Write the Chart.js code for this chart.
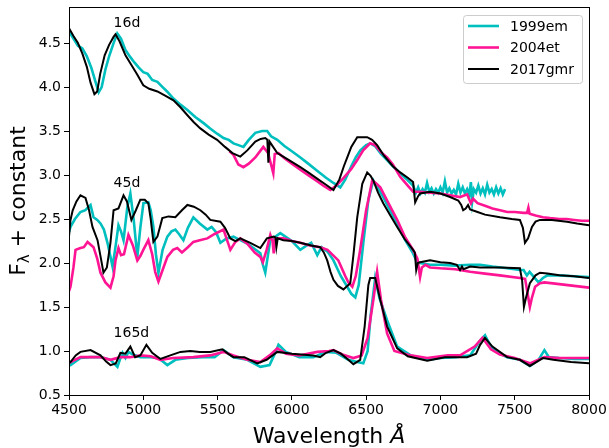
<!DOCTYPE html>
<html>
<head>
<meta charset="utf-8">
<script src="https://cdn.jsdelivr.net/npm/chart.js@4.4.0/dist/chart.umd.min.js"></script>
<style>
  html, body { margin: 0; padding: 0; background: #fff; }
  canvas { display: block; }
</style>
</head>
<body>
<canvas id="spec" width="609" height="448"></canvas>
<script>
// tick labels
var waveTicks = [4500, 5000, 5500, 6000, 6500, 7000, 7500, 8000];
var fluxTicks = [0.5, 1.0, 1.5, 2.0, 2.5, 3.0, 3.5, 4.0, 4.5];

var seriesNames = ['1999em', '2004et', '2017gmr'];
var epochs = ['16d', '45d', '165d'];
var epochLabelPos = [[4800, 4.72], [4800, 2.90], [4800, 1.20]];

// [wavelength, flux + constant]
var em16 = [[4500,4.63],[4530,4.55],[4560,4.47],[4590,4.44],[4620,4.35],[4650,4.22],[4680,4.05],[4700,3.94],[4720,4.0],[4745,4.2],[4770,4.35],[4800,4.5],[4825,4.61],[4850,4.55],[4880,4.42],[4913,4.34],[4940,4.28],[4970,4.22],[5000,4.17],[5030,4.15],[5060,4.08],[5095,4.06],[5130,4.0],[5160,3.95],[5203,3.87],[5250,3.80],[5297,3.74],[5350,3.66],[5406,3.59],[5450,3.53],[5497,3.47],[5540,3.42],[5575,3.40],[5607,3.36],[5640,3.34],[5674,3.32],[5710,3.40],[5754,3.48],[5800,3.50],[5834,3.50],[5860,3.44],[5902,3.40],[5950,3.33],[6000,3.27],[6057,3.20],[6110,3.13],[6170,3.05],[6230,2.97],[6280,2.91],[6326,2.86],[6360,2.95],[6400,3.10],[6430,3.20],[6461,3.28],[6500,3.34],[6527,3.36],[6560,3.33],[6600,3.24],[6641,3.17],[6680,3.10],[6729,3.02],[6780,2.94],[6816,2.88],[6835,2.80],[6850,2.86],[6865,2.79],[6880,2.84],[6895,2.80],[6910,2.91],[6925,2.81],[6940,2.85],[6955,2.79],[6970,2.84],[6985,2.80],[7000,2.86],[7015,2.80],[7030,2.93],[7045,2.80],[7060,2.85],[7075,2.79],[7090,2.83],[7105,2.78],[7120,2.90],[7135,2.80],[7150,2.86],[7165,2.79],[7180,2.84],[7195,2.78],[7205,2.92],[7214,2.70],[7225,2.84],[7240,2.80],[7255,2.88],[7270,2.79],[7285,2.85],[7300,2.78],[7315,2.89],[7330,2.80],[7345,2.84],[7360,2.78],[7375,2.86],[7390,2.79],[7405,2.85],[7420,2.78],[7435,2.84]];
var et16 = [[5580,3.27],[5607,3.23],[5640,3.12],[5674,3.09],[5710,3.13],[5754,3.20],[5790,3.28],[5808,3.32],[5840,3.25],[5860,3.12],[5875,3.02],[5885,3.24],[5910,3.25],[5950,3.19],[6000,3.13],[6057,3.06],[6110,3.0],[6170,2.93],[6220,2.87],[6259,2.83],[6300,2.88],[6350,2.97],[6400,3.07],[6440,3.17],[6480,3.28],[6527,3.36],[6560,3.34],[6600,3.26],[6641,3.20],[6680,3.12],[6729,2.98],[6780,2.88],[6816,2.81],[6863,2.81],[6930,2.80],[6998,2.79],[7065,2.77],[7132,2.75],[7180,2.78],[7205,2.68],[7220,2.73],[7250,2.68],[7300,2.65],[7350,2.62],[7401,2.60],[7450,2.58],[7500,2.58],[7560,2.57],[7583,2.57],[7592,2.63],[7600,2.56],[7640,2.54],[7690,2.52],[7738,2.51],[7800,2.50],[7850,2.50],[7900,2.49],[7950,2.48],[8000,2.48]];
var gmr16 = [[4500,4.67],[4530,4.58],[4560,4.50],[4590,4.38],[4620,4.23],[4645,4.05],[4671,3.92],[4690,3.95],[4710,4.15],[4740,4.36],[4770,4.48],[4800,4.57],[4813,4.60],[4840,4.52],[4880,4.36],[4920,4.25],[4960,4.14],[5000,4.02],[5040,3.98],[5095,3.95],[5150,3.90],[5203,3.85],[5250,3.77],[5297,3.68],[5340,3.60],[5384,3.53],[5440,3.46],[5497,3.40],[5550,3.32],[5600,3.25],[5653,3.21],[5700,3.28],[5754,3.38],[5790,3.41],[5821,3.42],[5835,3.40],[5842,3.14],[5850,3.38],[5902,3.25],[5950,3.20],[6000,3.15],[6057,3.09],[6110,3.03],[6170,2.96],[6230,2.89],[6280,2.83],[6320,2.95],[6350,3.10],[6373,3.20],[6400,3.32],[6440,3.43],[6507,3.43],[6540,3.40],[6574,3.34],[6620,3.22],[6680,3.10],[6729,3.03],[6780,2.97],[6816,2.92],[6830,2.69],[6850,2.76],[6863,2.79],[6930,2.81],[7000,2.79],[7065,2.75],[7120,2.71],[7140,2.66],[7153,2.60],[7170,2.62],[7186,2.66],[7200,2.61],[7250,2.58],[7300,2.55],[7401,2.52],[7480,2.50],[7535,2.49],[7555,2.40],[7569,2.23],[7590,2.28],[7616,2.41],[7640,2.47],[7670,2.49],[7750,2.49],[7852,2.47],[7920,2.45],[8000,2.43]];

var em45 = [[4500,2.35],[4510,2.41],[4540,2.50],[4577,2.58],[4610,2.60],[4645,2.66],[4665,2.52],[4690,2.49],[4712,2.45],[4735,2.38],[4759,2.23],[4793,1.96],[4810,2.15],[4833,2.43],[4850,2.36],[4867,2.26],[4893,2.64],[4913,2.79],[4935,2.50],[4960,2.07],[4980,2.40],[5001,2.68],[5034,2.69],[5050,2.60],[5068,2.41],[5085,2.10],[5102,1.89],[5130,2.15],[5162,2.30],[5190,2.36],[5216,2.38],[5240,2.33],[5270,2.26],[5300,2.40],[5337,2.52],[5380,2.45],[5431,2.38],[5460,2.41],[5490,2.35],[5519,2.23],[5560,2.28],[5607,2.30],[5653,2.26],[5700,2.22],[5750,2.16],[5788,2.11],[5805,1.98],[5821,1.89],[5840,2.10],[5855,2.26],[5922,2.34],[6000,2.25],[6057,2.15],[6100,2.20],[6130,2.23],[6171,2.09],[6200,2.18],[6240,2.13],[6280,2.03],[6330,1.85],[6373,1.73],[6400,1.65],[6427,1.61],[6450,1.75],[6481,2.23],[6515,2.72],[6548,2.94],[6580,2.85],[6615,2.75],[6660,2.60],[6709,2.45],[6760,2.27],[6816,2.11],[6840,2.02],[6863,2.00],[6930,1.98],[7000,1.98],[7100,1.97],[7200,1.98],[7267,1.98],[7350,1.96],[7450,1.94],[7535,1.92],[7560,1.92],[7582,1.86],[7600,1.90],[7630,1.84],[7660,1.78],[7690,1.83],[7720,1.86],[7800,1.86],[7900,1.85],[8000,1.84]];
var et45 = [[4500,1.68],[4510,1.73],[4530,1.95],[4544,2.15],[4577,2.17],[4600,2.18],[4625,2.24],[4665,2.18],[4690,2.05],[4712,1.89],[4745,1.78],[4779,1.72],[4800,1.85],[4813,2.03],[4833,2.17],[4850,2.09],[4870,2.10],[4900,2.32],[4930,2.20],[4960,2.03],[4980,2.08],[5000,2.15],[5034,2.26],[5060,2.10],[5080,1.90],[5102,1.79],[5130,1.92],[5162,2.07],[5200,2.15],[5229,2.17],[5260,2.12],[5300,2.18],[5337,2.24],[5380,2.26],[5431,2.28],[5480,2.33],[5540,2.38],[5586,2.15],[5620,2.24],[5653,2.28],[5700,2.22],[5750,2.12],[5788,2.07],[5805,2.01],[5830,2.15],[5855,2.32],[5870,2.25],[5878,2.11],[5886,2.28],[5943,2.28],[6000,2.25],[6057,2.23],[6120,2.20],[6191,2.18],[6240,2.15],[6313,2.03],[6360,1.85],[6380,1.78],[6407,1.73],[6430,1.85],[6460,2.15],[6500,2.60],[6515,2.72],[6541,2.94],[6570,2.90],[6595,2.86],[6650,2.68],[6709,2.49],[6760,2.30],[6816,2.15],[6845,2.05],[6863,1.84],[6875,1.95],[6900,1.98],[6930,1.95],[7000,1.94],[7100,1.93],[7200,1.90],[7300,1.88],[7400,1.86],[7535,1.83],[7570,1.82],[7590,1.62],[7602,1.50],[7615,1.60],[7637,1.73],[7670,1.77],[7700,1.78],[7800,1.76],[7900,1.74],[8000,1.72]];
var gmr45 = [[4500,2.30],[4510,2.49],[4525,2.60],[4550,2.70],[4577,2.77],[4611,2.74],[4635,2.60],[4658,2.41],[4692,2.26],[4715,2.05],[4732,1.89],[4755,1.95],[4779,2.23],[4800,2.60],[4833,2.62],[4867,2.77],[4890,2.70],[4920,2.49],[4950,2.60],[4980,2.72],[5010,2.72],[5034,2.68],[5050,2.50],[5068,2.24],[5095,2.30],[5128,2.51],[5170,2.53],[5216,2.52],[5260,2.60],[5297,2.66],[5340,2.64],[5384,2.60],[5420,2.55],[5451,2.49],[5519,2.47],[5550,2.40],[5586,2.28],[5620,2.25],[5653,2.28],[5720,2.23],[5788,2.17],[5832,2.28],[5878,2.30],[5890,2.29],[5896,2.18],[5905,2.28],[5943,2.26],[6000,2.25],[6057,2.23],[6130,2.20],[6191,2.18],[6215,2.12],[6238,2.03],[6260,1.90],[6280,1.81],[6310,1.74],[6347,1.70],[6393,1.77],[6415,2.10],[6440,2.52],[6474,2.90],[6507,3.03],[6530,2.99],[6548,2.94],[6580,2.80],[6615,2.68],[6660,2.55],[6709,2.41],[6760,2.27],[6816,2.15],[6828,2.12],[6837,1.92],[6848,2.00],[6863,2.01],[6930,2.03],[7000,2.01],[7065,2.00],[7110,1.98],[7132,1.92],[7145,1.96],[7155,1.93],[7200,1.96],[7267,1.95],[7400,1.95],[7535,1.94],[7550,1.80],[7562,1.50],[7575,1.60],[7602,1.77],[7640,1.86],[7670,1.89],[7720,1.88],[7800,1.86],[7900,1.85],[8000,1.83]];

var em165 = [[4500,0.84],[4510,0.84],[4577,0.92],[4645,0.93],[4712,0.93],[4779,0.90],[4826,0.82],[4846,0.92],[4860,0.98],[4880,0.92],[4900,0.99],[4930,0.96],[4980,0.93],[5050,0.93],[5102,0.92],[5162,0.84],[5216,0.90],[5300,0.92],[5400,0.93],[5480,0.93],[5540,1.01],[5607,0.93],[5700,0.90],[5788,0.82],[5850,0.84],[5880,0.95],[5910,1.07],[5960,0.99],[6050,0.93],[6145,0.93],[6230,0.99],[6300,0.98],[6380,0.90],[6440,0.875],[6481,0.86],[6510,1.00],[6530,1.40],[6561,1.83],[6590,1.60],[6641,1.35],[6709,1.05],[6800,0.95],[6911,0.90],[7000,0.92],[7100,0.93],[7200,0.95],[7267,1.12],[7300,1.18],[7340,1.05],[7400,0.97],[7449,0.93],[7535,0.90],[7602,0.83],[7660,0.90],[7700,1.01],[7730,0.93],[7800,0.92],[7900,0.91],[8000,0.91]];
var et165 = [[4500,0.86],[4510,0.875],[4577,0.93],[4645,0.93],[4712,0.93],[4779,0.90],[4846,0.93],[4913,0.93],[4980,0.95],[5050,0.94],[5115,0.90],[5200,0.92],[5337,0.93],[5450,0.95],[5540,0.99],[5607,0.95],[5700,0.90],[5788,0.875],[5850,0.95],[5902,1.03],[5960,0.97],[6050,0.95],[6171,0.99],[6250,1.00],[6280,1.01],[6340,0.96],[6414,0.92],[6470,0.95],[6510,1.15],[6550,1.60],[6574,1.90],[6600,1.58],[6641,1.20],[6690,1.00],[6800,0.95],[6911,0.92],[7050,0.95],[7132,0.95],[7230,1.05],[7283,1.15],[7340,1.02],[7400,0.96],[7500,0.92],[7602,0.86],[7700,0.93],[7800,0.92],[8000,0.92]];
var gmr165 = [[4500,0.86],[4510,0.875],[4545,0.95],[4577,0.99],[4645,1.01],[4712,0.95],[4750,0.88],[4779,0.84],[4815,0.86],[4846,0.98],[4880,0.97],[4913,1.05],[4945,0.93],[4980,0.95],[5021,1.07],[5060,0.98],[5115,0.91],[5182,0.95],[5250,0.99],[5317,1.00],[5380,0.99],[5451,0.99],[5532,1.02],[5570,0.97],[5607,0.93],[5680,0.93],[5767,0.86],[5830,0.90],[5902,0.99],[6000,0.97],[6145,0.95],[6191,0.93],[6230,0.98],[6280,1.01],[6330,0.97],[6380,0.90],[6414,0.85],[6460,0.90],[6490,1.28],[6515,1.75],[6527,1.83],[6561,1.83],[6595,1.58],[6641,1.28],[6709,1.03],[6780,0.94],[6911,0.89],[7030,0.93],[7180,0.93],[7240,0.97],[7267,1.07],[7300,1.15],[7350,1.05],[7449,0.93],[7535,0.90],[7602,0.83],[7690,0.92],[7760,0.90],[7880,0.875],[8000,0.86]];

var spectra = [[em16, em45, em165], [et16, et45, et165], [gmr16, gmr45, gmr165]];
var colors = ['#00bfbf', '#ff1493', '#000000'];
var widths = [2.6, 2.6, 2];
var FONT = 'DejaVu Sans';

var datasets = [];
spectra.forEach(function(group, s) {
  group.forEach(function(pts, e) {
    datasets.push({
      label: seriesNames[s],
      epoch: epochs[e],
      data: pts.map(function(p) { return {x: p[0], y: p[1]}; }),
      borderColor: colors[s],
      backgroundColor: colors[s],
      borderWidth: widths[s],
      pointRadius: 0,
      tension: 0,
      fill: false,
      order: 2 - s
    });
  });
});

var whiteBg = {
  id: 'whiteBg',
  beforeDraw: function(chart) {
    var c = chart.ctx;
    c.save();
    c.fillStyle = '#fff';
    c.fillRect(0, 0, chart.width, chart.height);
    c.restore();
  }
};

var extras = {
  id: 'extras',
  afterDraw: function(chart) {
    var c = chart.ctx, a = chart.chartArea;
    var xs = chart.scales.x, ys = chart.scales.y;
    c.save();
    // frame
    c.strokeStyle = '#000';
    c.lineWidth = 1;
    c.strokeRect(Math.round(a.left) + 0.5, Math.round(a.top) + 0.5, Math.round(a.right - a.left), Math.round(a.bottom - a.top));

    // epoch labels
    c.fillStyle = '#000';
    c.font = '14px ' + FONT;
    c.textAlign = 'left';
    c.textBaseline = 'middle';
    epochs.forEach(function(t, i) {
      c.fillText(t, xs.getPixelForValue(epochLabelPos[i][0]), ys.getPixelForValue(epochLabelPos[i][1]));
    });

    // legend
    var bx = a.right - 126, by = a.top + 8, bw = 119, bh = 68;
    c.beginPath();
    c.roundRect(bx + 0.5, by + 0.5, bw, bh, 3);
    c.fillStyle = 'rgba(255,255,255,0.8)';
    c.fill();
    c.strokeStyle = '#cccccc';
    c.stroke();
    seriesNames.forEach(function(n, i) {
      var ly = by + 11 + i * 21.5;
      c.beginPath();
      c.moveTo(bx + 5, ly);
      c.lineTo(bx + 36, ly);
      c.strokeStyle = colors[i];
      c.lineWidth = widths[i];
      c.stroke();
      c.fillStyle = '#000';
      c.font = '14px ' + FONT;
      c.textAlign = 'left';
      c.textBaseline = 'middle';
      c.fillText(n, bx + 47, ly + 1);
    });

    // x title: Wavelength Å
    c.fillStyle = '#000';
    c.textBaseline = 'middle';
    c.textAlign = 'left';
    var f1 = '22px ' + FONT, f2 = 'italic 22px ' + FONT;
    c.font = f1; var w1 = c.measureText('Wavelength ').width;
    c.font = f2; var w2 = c.measureText('Å').width;
    var cx = (a.left + a.right) / 2 - (w1 + w2) / 2;
    c.font = f1; c.fillText('Wavelength ', cx, 437);
    c.font = f2; c.fillText('Å', cx + w1, 437);

    // y title: F_λ + constant
    c.translate(19, (a.top + a.bottom) / 2);
    c.rotate(-Math.PI / 2);
    var fs = '15px ' + FONT;
    c.font = f1; var wa = c.measureText('F').width, wc = c.measureText(' + constant').width;
    c.font = fs; var wb = c.measureText('λ').width;
    var sx = -(wa + wb + wc) / 2;
    c.font = f1; c.fillText('F', sx, 0);
    c.font = fs; c.fillText('λ', sx + wa, 6);
    c.font = f1; c.fillText(' + constant', sx + wa + wb, 0);
    c.restore();
  }
};

new Chart(document.getElementById('spec'), {
  type: 'line',
  data: { datasets: datasets },
  options: {
    responsive: false,
    animation: false,
    devicePixelRatio: 1,
    layout: { padding: { top: 7, right: 20, left: 0, bottom: 0 } },
    plugins: { legend: { display: false }, tooltip: { enabled: false } },
    scales: {
      x: {
        type: 'linear',
        min: 4500,
        max: 8000,
        afterBuildTicks: function(s) { s.ticks = waveTicks.map(function(v) { return {value: v}; }); },
        afterFit: function(s) { s.height = 53; s.paddingLeft = 0; s.paddingRight = 0; },
        ticks: { color: '#000', font: { family: FONT, size: 14 }, padding: 2, maxRotation: 0,
          callback: function(v) { return String(v); } },
        grid: { drawOnChartArea: false, drawTicks: true, tickLength: 5, color: '#000' },
        border: { display: true, color: '#000' }
      },
      y: {
        type: 'linear',
        min: 0.5,
        max: 4.91,
        afterBuildTicks: function(s) { s.ticks = fluxTicks.map(function(v) { return {value: v}; }); },
        afterFit: function(s) { s.width = 69; s.paddingTop = 0; s.paddingBottom = 0; },
        ticks: { color: '#000', font: { family: FONT, size: 14 }, padding: 3,
          callback: function(v) { return v.toFixed(1); } },
        grid: { drawOnChartArea: false, drawTicks: true, tickLength: 5, color: '#000' },
        border: { display: true, color: '#000' }
      }
    }
  },
  plugins: [whiteBg, extras]
});
</script>
</body>
</html>
